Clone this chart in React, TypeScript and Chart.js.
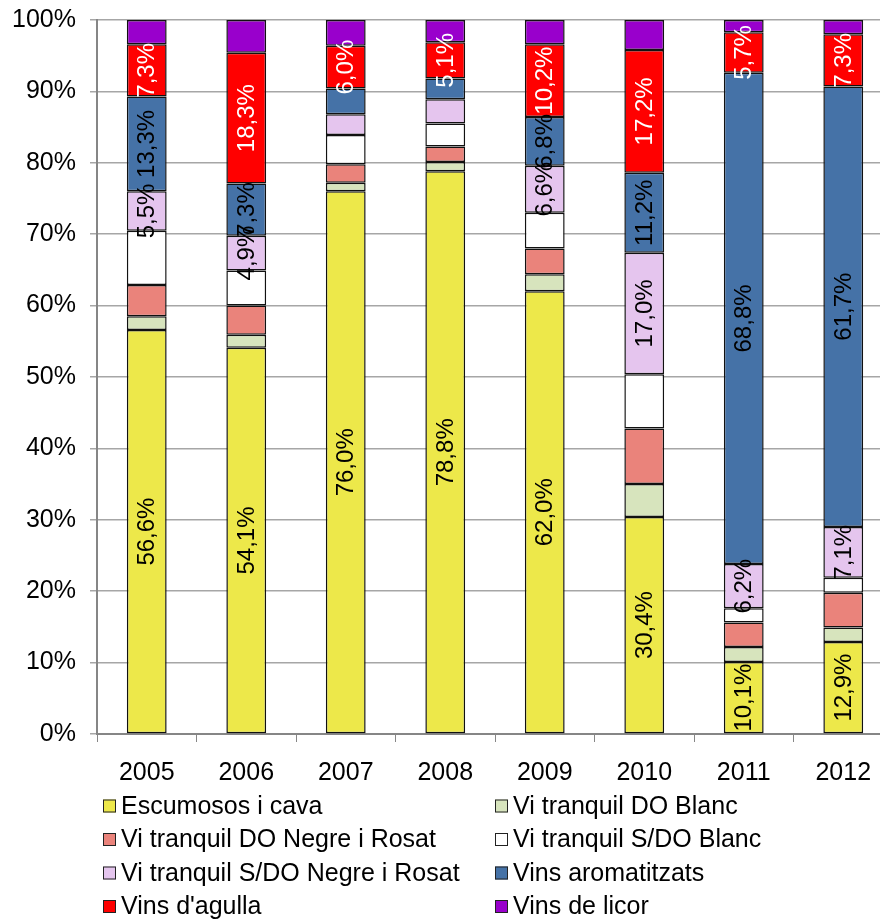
import React, { useEffect, useRef } from 'react';
import { Chart, registerables } from 'chart.js';

Chart.register(...registerables);

const years = ['2005', '2006', '2007', '2008', '2009', '2010', '2011', '2012'];

const seriesNames = [
  'Escumosos i cava',
  'Vi tranquil DO Blanc',
  'Vi tranquil DO Negre i Rosat',
  'Vi tranquil S/DO Blanc',
  'Vi tranquil S/DO Negre i Rosat',
  'Vins aromatitzats',
  "Vins d'agulla",
  'Vins de licor',
];

const seriesColors = ['#EDE84A', '#D7E4BD', '#EA837B', '#FFFFFF', '#E5C5EE', '#4572A7', '#FF0000', '#9900CC'];
const labelColors = ['#000000', '#000000', '#000000', '#000000', '#000000', '#000000', '#FFFFFF', '#000000'];

const escumosos = [56.6, 54.1, 76.0, 78.8, 62.0, 30.4, 10.1, 12.9];
const doBlanc = [1.9, 1.8, 1.2, 1.3, 2.4, 4.6, 2.1, 2.0];
const doNegre = [4.4, 4.1, 2.6, 2.2, 3.6, 7.8, 3.4, 4.9];
const sdoBlanc = [7.6, 4.9, 4.1, 3.2, 5.0, 7.6, 2.0, 2.1];
const sdoNegre = [5.5, 4.9, 2.9, 3.4, 6.6, 17.0, 6.2, 7.1];
const aromatitzats = [13.3, 7.3, 3.6, 2.9, 6.8, 11.2, 68.8, 61.7];
const agulla = [7.3, 18.3, 6.0, 5.1, 10.2, 17.2, 5.7, 7.3];
const licor = [3.4, 4.6, 3.6, 3.1, 3.4, 4.2, 1.7, 2.0];

const seriesValues = [escumosos, doBlanc, doNegre, sdoBlanc, sdoNegre, aromatitzats, agulla, licor];

// series that carry data labels, and the smallest value labelled
const labelledSeries = [0, 4, 5, 6];
const minLabelValue = 4.5;

const FONT = '"Liberation Sans", Arial, sans-serif';

const fmt = (v: number) => v.toFixed(1).replace('.', ',') + '%';

const segmentLabels = {
  id: 'segmentLabels',
  afterDatasetsDraw(chart: any) {
    const ctx = chart.ctx;
    chart.data.datasets.forEach((ds: any, di: number) => {
      if (!labelledSeries.includes(di)) return;
      const meta = chart.getDatasetMeta(di);
      meta.data.forEach((bar: any, i: number) => {
        const v = ds.data[i];
        if (v < minLabelValue) return;
        const p = bar.getProps(['x', 'y', 'base'], true);
        const cy = (p.y + p.base) / 2;
        ctx.save();
        ctx.translate(p.x + 1, cy);
        ctx.rotate(-Math.PI / 2);
        ctx.font = '24px ' + FONT;
        ctx.fillStyle = labelColors[di];
        ctx.textAlign = 'center';
        ctx.textBaseline = 'middle';
        ctx.fillText(fmt(v), 0, 0);
        ctx.restore();
      });
    });
  },
};

const legendColumnX = [103, 495];
const legendFirstRowY = 806;
const legendRowGap = 33.5;
const legendBox = 13;

const gridLegend = {
  id: 'gridLegend',
  afterDraw(chart: any) {
    const ctx = chart.ctx;
    chart.data.datasets.forEach((ds: any, i: number) => {
      const col = i % 2;
      const row = Math.floor(i / 2);
      const x = legendColumnX[col];
      const y = legendFirstRowY + row * legendRowGap;
      ctx.save();
      ctx.fillStyle = ds.backgroundColor;
      ctx.fillRect(x, y - legendBox / 2, legendBox, legendBox);
      ctx.strokeStyle = '#222222';
      ctx.lineWidth = 1;
      ctx.strokeRect(x + 0.5, y - legendBox / 2 + 0.5, legendBox - 1, legendBox - 1);
      ctx.font = '25px ' + FONT;
      ctx.fillStyle = '#000000';
      ctx.textAlign = 'left';
      ctx.textBaseline = 'middle';
      ctx.fillText(ds.label, x + legendBox + 5, y + 1);
      ctx.restore();
    });
  },
};

export default function App() {
  const canvasRef = useRef<HTMLCanvasElement | null>(null);

  useEffect(() => {
    document.body.style.margin = '0';
    const canvas = canvasRef.current;
    if (!canvas) return;
    const chart = new Chart(canvas, {
      type: 'bar',
      data: {
        labels: years,
        datasets: seriesNames.map((name, i) => ({
          label: name,
          data: seriesValues[i],
          backgroundColor: seriesColors[i],
          borderColor: '#111111',
          borderWidth: 1.5,
          borderSkipped: false,
          barPercentage: 0.4,
          categoryPercentage: 1,
        })),
      },
      options: {
        responsive: false,
        animation: false,
        events: [],
        layout: { padding: { top: 20, right: 7, bottom: 0, left: 0 } },
        plugins: {
          legend: { display: false },
          tooltip: { enabled: false },
        },
        scales: {
          x: {
            stacked: true,
            grid: {
              drawOnChartArea: false,
              drawTicks: true,
              tickLength: 8,
              color: '#868686',
              offset: true,
            },
            border: { color: '#868686', width: 2 },
            ticks: { color: '#000000', font: { family: FONT, size: 25 }, padding: 16 },
            afterFit: (s: any) => {
              s.height = 185;
              s.paddingLeft = 0;
              s.paddingRight = 0;
            },
          },
          y: {
            stacked: true,
            min: 0,
            max: 100,
            grid: { color: '#A6A6A6', lineWidth: 1.5, tickLength: 7 },
            border: { color: '#868686', width: 2 },
            ticks: {
              stepSize: 10,
              color: '#000000',
              font: { family: FONT, size: 25 },
              padding: 14,
              callback: (v: any) => v + '%',
            },
            afterFit: (s: any) => {
              s.width = 97;
              s.paddingTop = 0;
              s.paddingBottom = 0;
            },
          },
        },
      },
      plugins: [segmentLabels, gridLegend],
    });
    return () => chart.destroy();
  }, []);

  return (
    <div style={{ width: 880, height: 919, overflow: 'hidden', position: 'relative', background: '#fff' }}>
      <canvas ref={canvasRef} width={900} height={919} style={{ display: 'block' }} />
    </div>
  );
}
